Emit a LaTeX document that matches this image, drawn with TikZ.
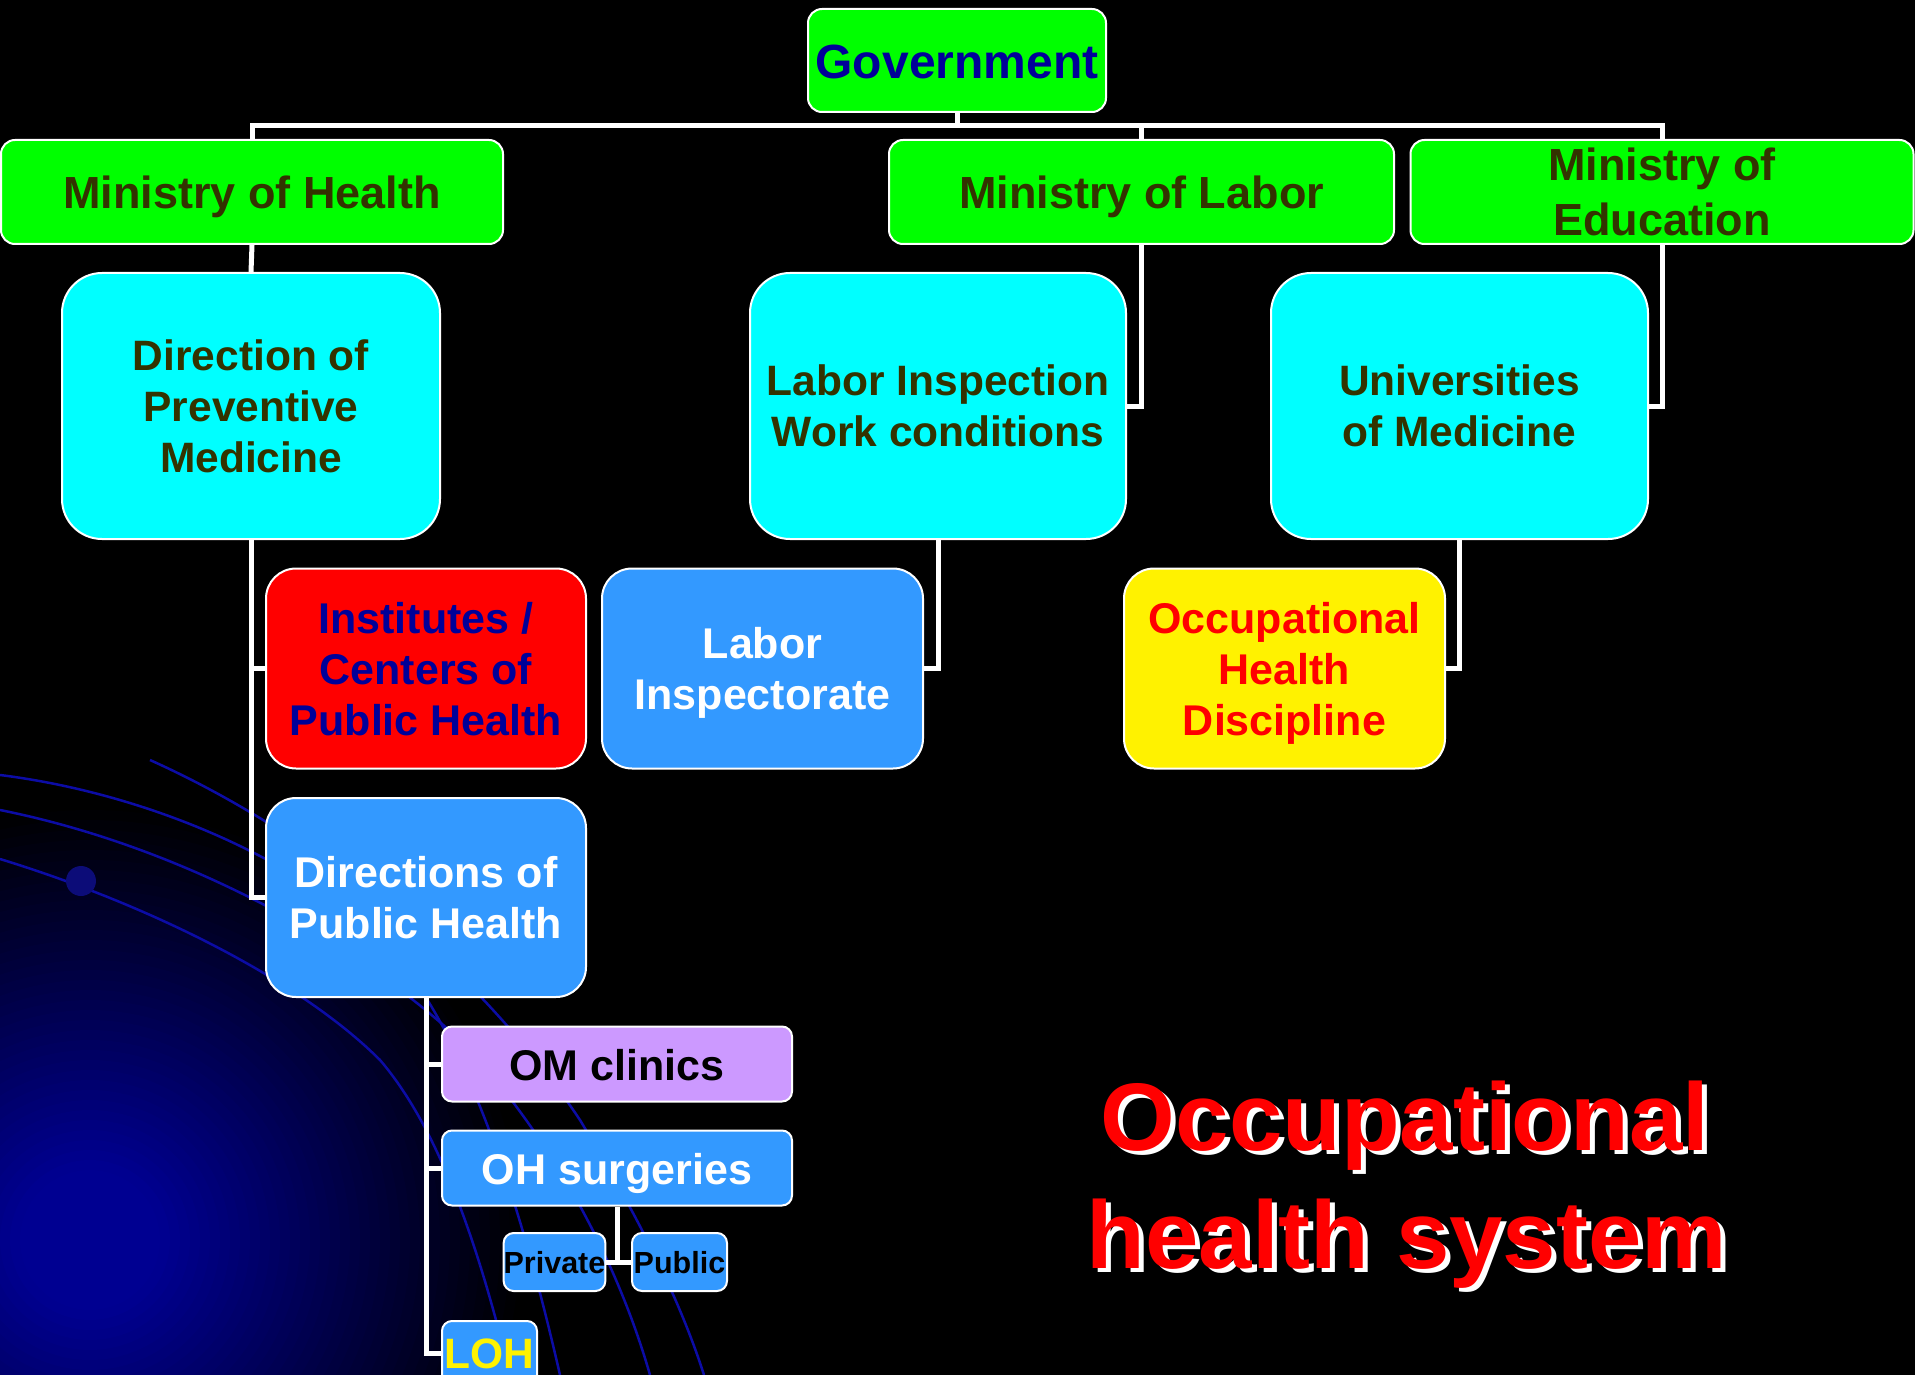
\documentclass[tikz,border=0pt]{standalone}
\usepackage{fontspec}
\setmainfont{Liberation Sans}
\definecolor{ggreen}{RGB}{0,255,0}
\definecolor{olivetxt}{RGB}{51,51,0}
\definecolor{govblue}{RGB}{0,0,153}
\definecolor{cyanbox}{RGB}{0,255,255}
\definecolor{skyb}{RGB}{51,153,255}
\definecolor{lilac}{RGB}{204,153,255}
\definecolor{arcblue}{RGB}{12,12,165}
\definecolor{dotblue}{RGB}{12,12,120}
\newcommand{\myTopStrut}{\rule[-0.212em]{0pt}{\dimexpr1.117em+2.5pt\relax}}
\newcommand{\myLineStrut}{\rule[-0.212em]{0pt}{1.117em}}
\tikzset{
  box/.style={draw=white, line width=2pt, align=center, inner sep=0pt,
    font=\fontsize{43}{51}\selectfont\bfseries,
    execute at begin node=\myTopStrut, execute at end node=\myLineStrut},
  ml/.style={text depth=-3pt},
  minbox/.style={box, fill=ggreen, text=olivetxt, rounded corners=14pt, font=\fontsize{45}{55}\selectfont\bfseries},
  cyanb/.style={box, ml, fill=cyanbox, text=olivetxt, rounded corners=40pt, font=\fontsize{42.5}{51}\selectfont\bfseries},
  midb/.style={box, ml, rounded corners=30pt},
  smallb/.style={box, rounded corners=10pt},
  conn/.style={draw=white, line width=5pt},
  arcline/.style={draw=arcblue, line width=2.5pt},
  titletxt/.style={anchor=base, inner sep=0pt, font=\fontsize{96}{116}\selectfont\bfseries}
}
\begin{document}
\begin{tikzpicture}[x=1pt, y=-1pt]
\useasboundingbox (0,0) rectangle (1915,1375);
\begin{scope}
\clip (0,0) rectangle (1915,1375);
\fill[black] (0,0) rectangle (1915,1375);
\foreach \r in {430,420,...,10} {
  \pgfmathtruncatemacro\bb{min(145,175-0.40*\r)}
  \definecolor{ringc}{RGB}{0,0,\bb}
  \fill[ringc] (90,1240) circle (\r);
}
\draw[arcline] (0,775) .. controls (160,795) and (320,870) .. (400,960) .. controls (470,1050) and (520,1200) .. (560,1375);
\draw[arcline] (0,859) .. controls (150,905) and (300,980) .. (380,1060) .. controls (440,1130) and (480,1250) .. (510,1375);
\draw[arcline] (0,810) .. controls (200,850) and (380,960) .. (470,1050) .. controls (560,1150) and (620,1270) .. (650,1375);
\draw[arcline] (150,760) .. controls (350,850) and (500,1000) .. (580,1120) .. controls (640,1220) and (680,1300) .. (704,1375);
\fill[dotblue] (81,881) circle (15);
\end{scope}

% nodes
\node[minbox, text=govblue, minimum width=298, minimum height=103, font=\fontsize{48}{55}\selectfont\bfseries] (gov) at (957,60.5) {Government};
\node[minbox, minimum width=502, minimum height=104] (moh) at (252,192) {Ministry of Health};
\node[minbox, minimum width=505, minimum height=104] (mol) at (1141.5,192) {Ministry of Labor};
\node[minbox, ml, minimum width=503, minimum height=104] (moe) at (1662,192) {Ministry of\\Education};

\node[cyanb, minimum width=378, minimum height=266] (dpm) at (251,406) {Direction of\\Preventive\\Medicine};
\node[cyanb, minimum width=376, minimum height=266] (li) at (938,406) {Labor Inspection\\Work conditions};
\node[cyanb, minimum width=377, minimum height=266] (uni) at (1459.5,406) {Universities\\of Medicine};

\node[midb, fill=red, text=govblue, minimum width=320, minimum height=200] (inst) at (426,668.5) {Institutes /\\Centers of\\Public Health};
\node[midb, fill=skyb, text=white, minimum width=321, minimum height=200] (linsp) at (762.5,668.5) {Labor\\Inspectorate};
\node[midb, fill=yellow, text=red, minimum width=321, minimum height=200] (ohd) at (1284.5,668.5) {Occupational\\Health\\Discipline};

\node[midb, fill=skyb, text=white, minimum width=320, minimum height=199] (dph) at (426,897.5) {Directions of\\Public Health};

\node[smallb, fill=lilac, text=black, minimum width=350, minimum height=75] (om) at (617,1064) {OM clinics};
\node[smallb, fill=skyb, text=white, minimum width=350, minimum height=75] (oh) at (617,1168) {OH surgeries};
\node[smallb, fill=skyb, text=black, minimum width=95, minimum height=58, font=\fontsize{30.5}{36}\selectfont\bfseries] (priv) at (554.5,1262) {Private};
\node[smallb, fill=skyb, text=black, minimum width=95, minimum height=58, font=\fontsize{30.5}{36}\selectfont\bfseries] (pub) at (679.5,1262) {Public};
\node[smallb, fill=skyb, text=yellow, minimum width=95, minimum height=64, font=\fontsize{42.5}{51}\selectfont\bfseries] (loh) at (489.5,1353) {LOH};

% connectors
\coordinate (bar) at (0,126);
\draw[conn] (gov.south) -- (gov.south|-bar) -| (moh.north);
\draw[conn] (gov.south) -- (gov.south|-bar) -| (mol.north);
\draw[conn] (gov.south) -- (gov.south|-bar) -| (moe.north);
\draw[conn] (moh.south) -- (dpm.north);
\draw[conn] (mol.south) |- (li.east);
\draw[conn] (moe.south) |- (uni.east);
\draw[conn] (dpm.south) |- (inst.west);
\draw[conn] (dpm.south) |- (dph.west);
\draw[conn] (li.south) |- (linsp.east);
\draw[conn] (uni.south) |- (ohd.east);
\draw[conn] (dph.south) |- (om.west);
\draw[conn] (dph.south) |- (oh.west);
\draw[conn] (dph.south) |- (loh.west);
\draw[conn] (oh.south) -- (oh.south|-priv.east);
\draw[conn] (priv.east) -- (pub.west);

% title
\node[titletxt, text=white] (t1s) at (1410,1154) {Occupational};
\node[titletxt, text=red] (t1) at (1405,1150) {Occupational};
\node[titletxt, text=white] (t2s) at (1412,1272) {health system};
\node[titletxt, text=red] (t2) at (1407,1268) {health system};
\end{tikzpicture}
\end{document}
